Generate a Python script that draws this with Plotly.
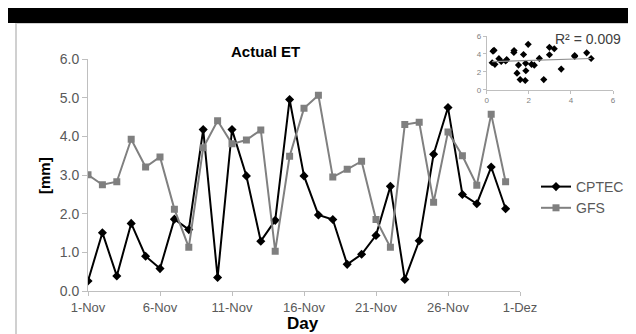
import numpy as np
import plotly.graph_objects as go

days = list(range(1, 31))
cptec = [0.26, 1.51, 0.39, 1.75, 0.90, 0.58, 1.86, 1.59, 4.18, 0.35,
         4.18, 2.98, 1.29, 1.83, 4.96, 2.98, 1.97, 1.85, 0.69, 0.95,
         1.44, 2.71, 0.30, 1.30, 3.54, 4.75, 2.50, 2.26, 3.21, 2.13]
gfs = [3.01, 2.75, 2.83, 3.93, 3.21, 3.47, 2.12, 1.13, 3.71, 4.41,
       3.81, 3.91, 4.17, 1.03, 3.49, 4.73, 5.07, 2.95, 3.15, 3.36,
       1.85, 1.13, 4.31, 4.37, 2.30, 4.12, 3.50, 2.74, 4.58, 2.83]
tick_days = [1, 6, 11, 16, 21, 26, 31]
tick_labels = ["1-Nov", "6-Nov", "11-Nov", "16-Nov", "21-Nov", "26-Nov", "1-Dez"]
y_ticks = [0, 1, 2, 3, 4, 5, 6]
y_labels = ["0.0", "1.0", "2.0", "3.0", "4.0", "5.0", "6.0"]
inset_ticks = [0, 2, 4, 6]
r2_text = "R² = 0.009"

FONT = "Liberation Sans, Arial, sans-serif"
AX = "#bfbfbf"
TXT = "#595959"


def px(x):
    return (x - 88) / 528


def py(y):
    return (291 - y) / 261


fig = go.Figure()
fig.add_trace(go.Scatter(x=days, y=cptec, name="CPTEC", mode="lines+markers",
                         line=dict(color="black", width=2),
                         marker=dict(symbol="diamond", size=7, color="black")))
fig.add_trace(go.Scatter(x=days, y=gfs, name="GFS", mode="lines+markers",
                         line=dict(color="#808080", width=2),
                         marker=dict(symbol="square", size=7, color="#7f7f7f")))

# inset scatter CPTEC vs GFS with linear trend
cx = np.array(cptec)
gy = np.array(gfs)
slope, intercept = np.polyfit(cx, gy, 1)
xs = np.array([cx.min(), cx.max()])
fig.add_trace(go.Scatter(x=cx, y=gy, mode="markers", showlegend=False,
                         marker=dict(symbol="diamond", size=5.5, color="black"),
                         xaxis="x2", yaxis="y2"))
fig.add_trace(go.Scatter(x=xs, y=slope * xs + intercept, mode="lines", showlegend=False,
                         line=dict(color="#909090", width=1.2),
                         xaxis="x2", yaxis="y2"))

fig.update_layout(
    template="none",
    width=636, height=334,
    margin=dict(l=80, r=28, t=22, b=51, autoexpand=False),
    paper_bgcolor="white", plot_bgcolor="white",
    font=dict(family=FONT, color=TXT, size=13),
    xaxis=dict(domain=[0, 432 / 528], range=[1, 31], tickvals=tick_days, ticktext=tick_labels,
               showgrid=False, zeroline=False, showline=True, linecolor=AX, linewidth=1,
               ticks="outside", ticklen=4, tickcolor=AX, tickfont=dict(size=13, color=TXT),
               automargin=False),
    yaxis=dict(domain=[0, py(59.3)], range=[0, 6], tickvals=y_ticks, ticktext=y_labels,
               showgrid=False, zeroline=False, showline=True, linecolor=AX, linewidth=1,
               ticks="outside", ticklen=5, tickcolor=AX, tickfont=dict(size=14, color=TXT),
               automargin=False),
    xaxis2=dict(domain=[px(486.7), px(613)], range=[0, 6], anchor="y2",
                tickvals=inset_ticks, showgrid=False, zeroline=False, showline=True,
                linecolor=AX, ticks="outside", ticklen=3, tickcolor=AX,
                tickfont=dict(size=8, color="#808080"), automargin=False),
    yaxis2=dict(domain=[py(89.7), py(36)], range=[0, 6], anchor="x2",
                tickvals=inset_ticks, showgrid=False, zeroline=False, showline=True,
                linecolor=AX, ticks="outside", ticklen=3, tickcolor=AX,
                tickfont=dict(size=8, color="#808080"), automargin=False),
    legend=dict(x=px(536), y=py(171), xanchor="left", yanchor="top",
                font=dict(size=14, color=TXT), bgcolor="rgba(0,0,0,0)", tracegroupgap=0),
    showlegend=True,
)

common = dict(xref="paper", yref="paper", showarrow=False, yanchor="middle")
fig.add_annotation(text="<b>Actual ET</b>", x=px(265), y=py(51), xanchor="center",
                   font=dict(size=15, color="black", family=FONT), **common)
fig.add_annotation(text="<b>[mm]</b>", x=px(44), y=py(176), xanchor="center", textangle=-90,
                   font=dict(size=15, color="black", family=FONT), **common)
fig.add_annotation(text="<b>Day</b>", x=px(303), y=py(323.5), xanchor="center",
                   font=dict(size=17, color="black", family=FONT), **common)
fig.add_annotation(text=r2_text, x=px(623), y=py(39), xanchor="right",
                   font=dict(size=14, color="#404040", family=FONT), **common)

# frame and top black bar
fig.add_shape(type="rect", xref="paper", yref="paper",
              x0=px(16), x1=px(632), y0=py(350), y1=py(23),
              line=dict(color="#d0d0d0", width=2), fillcolor="rgba(0,0,0,0)", layer="below")
fig.add_shape(type="rect", xref="paper", yref="paper",
              x0=px(-10), x1=px(660), y0=py(23), y1=py(6),
              line=dict(width=0), fillcolor="black", layer="above")

fig.write_html("out.html")
